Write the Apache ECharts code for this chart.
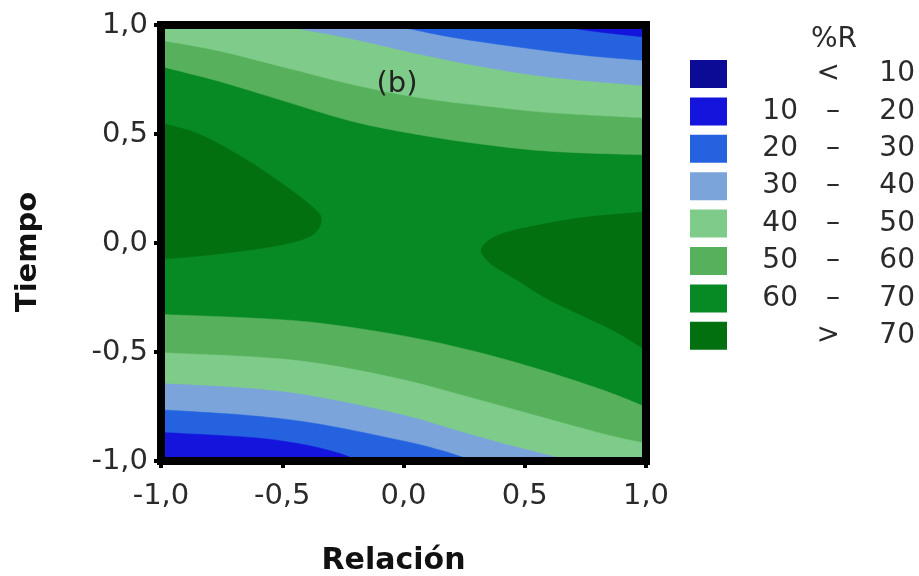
<!DOCTYPE html>
<html><head><meta charset="utf-8">
<script src="https://cdn.jsdelivr.net/npm/echarts@6/dist/echarts.min.js"></script>
<style>html,body{margin:0;padding:0;background:#fff}#c{width:919px;height:576px}</style>
</head><body><div id="c"></div>
<script>
// axis ranges / ticks
const axisMin = -1, axisMax = 1, axisStep = 0.5;
// legend bands (%R)
const bandNames = ['< 10', '10 – 20', '20 – 30', '30 – 40', '40 – 50', '50 – 60', '60 – 70', '> 70'];
const bandColors = ['#0b0b96', '#1414dc', '#2462e0', '#7aa4da', '#7fcc8a', '#56b05c', '#078a24', '#02700f'];
// contour lines, points as [Relación, Tiempo]
const top20 = [[0.60, 1], [0.80, 0.969], [1, 0.944]];
const top30 = [[-0.05, 1], [0.20, 0.944], [0.48, 0.898], [0.755, 0.860], [1, 0.837]];
const top40 = [[-0.52, 1], [-0.214, 0.937], [0.063, 0.867], [0.34, 0.806], [0.617, 0.759], [1, 0.721]];
const top50 = [[-1, 0.93], [-0.768, 0.883], [-0.491, 0.806], [-0.214, 0.728], [0.063, 0.667], [0.34, 0.628], [0.617, 0.597], [1, 0.574]];
const top60 = [[-1, 0.81], [-0.768, 0.744], [-0.491, 0.651], [-0.214, 0.559], [0.063, 0.497], [0.34, 0.451], [0.617, 0.42], [1, 0.404]];
const bot60 = [[-1, -0.328], [-0.63, -0.344], [-0.353, -0.367], [-0.006, -0.425], [0.271, -0.491], [0.548, -0.576], [0.825, -0.676], [1, -0.753]];
const bot50 = [[-1, -0.503], [-0.63, -0.522], [-0.353, -0.552], [-0.006, -0.626], [0.271, -0.707], [0.548, -0.792], [0.825, -0.876], [1, -0.92]];
const bot40 = [[-1, -0.645], [-0.63, -0.668], [-0.353, -0.707], [-0.006, -0.788], [0.271, -0.877], [0.48, -0.94], [0.70, -1]];
const bot30 = [[-1, -0.765], [-0.63, -0.792], [-0.353, -0.830], [-0.006, -0.907], [0.15, -0.95], [0.29, -1]];
const bot20 = [[-1, -0.869], [-0.63, -0.892], [-0.42, -0.923], [-0.28, -0.96], [-0.18, -1]];
const lobeLeft = [[-1, 0.55], [-0.838, 0.497], [-0.658, 0.389], [-0.491, 0.265], [-0.367, 0.157], [-0.339, 0.103], [-0.38, 0.034], [-0.519, -0.012], [-0.768, -0.051], [-1, -0.075]];
const lobeRight = [[1, 0.142], [0.756, 0.119], [0.548, 0.08], [0.39, 0.036], [0.322, -0.025], [0.345, -0.08], [0.398, -0.124], [0.468, -0.17], [0.575, -0.245], [0.674, -0.3], [0.76, -0.345], [0.88, -0.41], [1, -0.491]];

const TL = [axisMin, axisMax], TR = [axisMax, axisMax], BL = [axisMin, axisMin], BR = [axisMax, axisMin];
// regions of each band (painted in order, later ones on top)
const bandShapes = {
  '60 – 70': [{ curve: [BL, BR, TR, TL], close: [], straight: true }],
  '> 70': [{ curve: lobeLeft, close: [] }, { curve: lobeRight, close: [] }],
  '50 – 60': [{ curve: top60, close: [TR, TL] }, { curve: bot60, close: [BR, BL] }],
  '40 – 50': [{ curve: top50, close: [TR, TL] }, { curve: bot50, close: [BR, BL] }],
  '30 – 40': [{ curve: top40, close: [TR] }, { curve: bot40, close: [BL] }],
  '20 – 30': [{ curve: top30, close: [TR] }, { curve: bot30, close: [BL] }],
  '10 – 20': [{ curve: top20, close: [TR] }, { curve: bot20, close: [BL] }],
  '< 10': []
};
const paintOrder = ['60 – 70', '> 70', '50 – 60', '40 – 50', '30 – 40', '20 – 30', '10 – 20', '< 10'];

const FONT = 'DejaVu Sans';
const TXT = '#2a2a2a';
const fmt = v => v.toFixed(1).replace('.', ',');

function makeRender(name, color) {
  const shapes = bandShapes[name];
  return function (params, api) {
    const s = shapes[params.dataIndex];
    const pts = s.curve.map(p => api.coord(p));
    let d = 'M' + pts[0][0] + ' ' + pts[0][1];
    if (s.straight) {
      for (let i = 1; i < pts.length; i++) d += ' L' + pts[i][0] + ' ' + pts[i][1];
    } else {
      for (let i = 0; i < pts.length - 1; i++) {
        const p0 = pts[Math.max(i - 1, 0)], p1 = pts[i], p2 = pts[i + 1], p3 = pts[Math.min(i + 2, pts.length - 1)];
        const c1 = [p1[0] + (p2[0] - p0[0]) / 6, p1[1] + (p2[1] - p0[1]) / 6];
        const c2 = [p2[0] - (p3[0] - p1[0]) / 6, p2[1] - (p3[1] - p1[1]) / 6];
        d += ' C' + c1[0] + ' ' + c1[1] + ' ' + c2[0] + ' ' + c2[1] + ' ' + p2[0] + ' ' + p2[1];
      }
    }
    s.close.forEach(p => { const c = api.coord(p); d += ' L' + c[0] + ' ' + c[1]; });
    d += ' Z';
    return { type: 'path', shape: { pathData: d }, style: { fill: color, stroke: color, lineWidth: 0.5 } };
  };
}

const series = paintOrder.map(name => {
  const color = bandColors[bandNames.indexOf(name)];
  return {
    name: name, type: 'custom', clip: true, silent: true,
    itemStyle: { color: color },
    renderItem: makeRender(name, color),
    data: bandShapes[name].map((s, i) => [i])
  };
});

const axisCommon = {
  type: 'value', min: axisMin, max: axisMax, interval: axisStep, z: 10,
  axisLine: { show: false, onZero: false },
  axisTick: { show: true, length: 7, lineStyle: { color: '#000', width: 4 } },
  splitLine: { show: false },
  nameLocation: 'middle'
};

const chart = echarts.init(document.getElementById('c'), null, { renderer: 'canvas' });
chart.setOption({
  animation: false,
  backgroundColor: '#fff',
  grid: { left: 161, right: 273, top: 25, bottom: 115, show: true, borderColor: '#000', borderWidth: 8, backgroundColor: 'transparent', z: 10, outerBoundsMode: 'none', containLabel: false },
  xAxis: Object.assign({}, axisCommon, {
    axisLabel: { formatter: fmt, fontSize: 29, color: TXT, fontFamily: FONT, margin: 21 },
    name: 'Relación', nameGap: 85,
    nameTextStyle: { fontSize: 30, fontWeight: 'bold', color: '#111', fontFamily: FONT, padding: [0, 20, 0, 0] }
  }),
  yAxis: Object.assign({}, axisCommon, {
    axisLabel: { formatter: fmt, fontSize: 29, color: TXT, fontFamily: FONT, margin: 13 },
    name: 'Tiempo', nameGap: 118,
    nameTextStyle: { fontSize: 29, fontWeight: 'bold', color: '#111', fontFamily: FONT, padding: [0, 18, 0, 0] }
  }),
  legend: {
    orient: 'vertical', left: 690, top: 60, padding: 0,
    itemWidth: 37, itemHeight: 28, itemGap: 9.4, icon: 'rect', selectedMode: false,
    data: bandNames.map((n, i) => ({ name: n, itemStyle: { color: bandColors[i], borderWidth: 0 } })),
    formatter: function (n) {
      const parts = n.split(' ');
      if (parts.length === 3) return '{a|' + parts[0] + '}{b|' + parts[1] + '}{c|' + parts[2] + '}';
      return '{a| }{b|' + parts[0] + '}{c|' + parts[1] + '}';
    },
    textStyle: {
      fontSize: 28, color: TXT, fontFamily: FONT,
      rich: {
        a: { width: 66, align: 'right', fontSize: 28, color: TXT, fontFamily: FONT },
        b: { width: 42, align: 'right', fontSize: 28, color: TXT, fontFamily: FONT },
        c: { width: 75, align: 'right', fontSize: 28, color: TXT, fontFamily: FONT }
      }
    }
  },
  graphic: [
    { type: 'text', x: 834, y: 40, style: { text: '%R', fontSize: 28, fontFamily: FONT, fill: TXT, align: 'center', verticalAlign: 'middle', textAlign: 'center', textVerticalAlign: 'middle' }, z: 20 },
    { type: 'text', x: 397, y: 84, style: { text: '(b)', fontSize: 29, fontFamily: FONT, fill: '#222', align: 'center', verticalAlign: 'middle', textAlign: 'center', textVerticalAlign: 'middle' }, z: 20 }
  ],
  series: series
});
</script></body></html>
